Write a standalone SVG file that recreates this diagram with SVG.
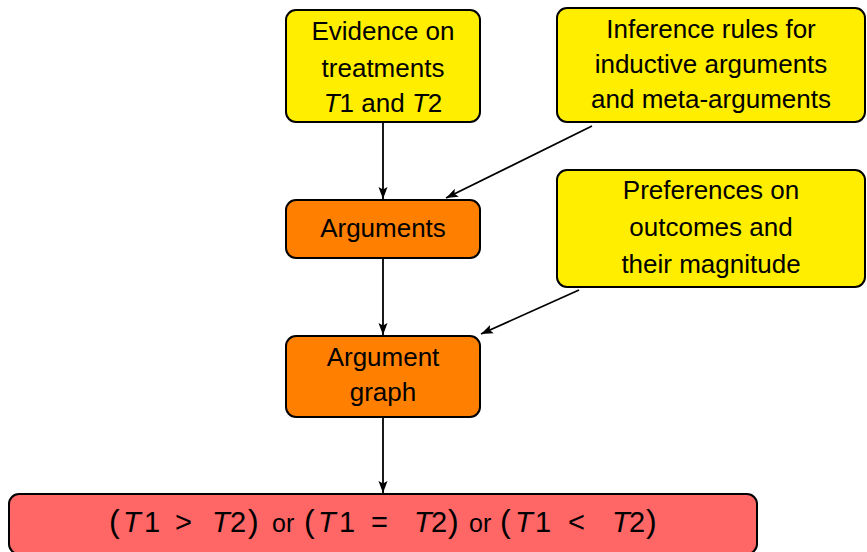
<svg xmlns="http://www.w3.org/2000/svg" width="867" height="552" viewBox="0 0 867 552">
<defs>
<marker id="ah" viewBox="0 0 12 10" refX="12" refY="5" markerWidth="12" markerHeight="10" markerUnits="userSpaceOnUse" orient="auto">
<path d="M0,0.5 L12,5 L0,9.5 L2.5,5 Z" fill="#000"/>
</marker>
<style>
.box{stroke:#000;stroke-width:2}
.y{fill:#ffee00}
.o{fill:#ff8000}
.r{fill:#ff6666}
text{font-family:"Liberation Sans","DejaVu Sans",sans-serif;font-size:26px;fill:#000;text-anchor:middle}
.m{font-size:29px;text-anchor:start}
.i{font-style:italic}
.p{font-size:32px}
.or{font-size:25px}
.c{stroke:#000;stroke-width:1.8;fill:none;marker-end:url(#ah)}
</style>
</defs>
<rect width="867" height="552" fill="#fff"/>
<g id="connectors">
<line class="c" x1="383" y1="123" x2="383" y2="199"/>
<line class="c" x1="592" y1="126" x2="446" y2="198"/>
<line class="c" x1="383" y1="259" x2="383" y2="335"/>
<line class="c" x1="579" y1="290" x2="481" y2="334"/>
<line class="c" x1="383" y1="418" x2="383" y2="493"/>
</g>
<g id="evidence">
<rect class="box y" x="286" y="10" width="194" height="112" rx="10"/>
<text x="383" y="40">Evidence on</text>
<text x="383" y="77">treatments</text>
<text x="383" y="112"><tspan class="i">T</tspan>1 and <tspan class="i">T</tspan>2</text>
</g>
<g id="inference">
<rect class="box y" x="557" y="8" width="308" height="114" rx="10"/>
<text x="711" y="38">Inference rules for</text>
<text x="711" y="73">inductive arguments</text>
<text x="711" y="108">and meta-arguments</text>
</g>
<g id="arguments">
<rect class="box o" x="286" y="200" width="194" height="58" rx="10"/>
<text x="383" y="237">Arguments</text>
</g>
<g id="preferences">
<rect class="box y" x="557" y="170" width="308" height="117" rx="10"/>
<text x="711" y="199">Preferences on</text>
<text x="711" y="236">outcomes and</text>
<text x="711" y="273">their magnitude</text>
</g>
<g id="graph">
<rect class="box o" x="286" y="336" width="194" height="81" rx="10"/>
<text x="383" y="366">Argument</text>
<text x="383" y="401">graph</text>
</g>
<g id="result">
<rect class="box r" x="9" y="494" width="748" height="60" rx="10"/>
<text class="m" y="532"><tspan x="109" class="p">(</tspan><tspan x="123" class="i">T</tspan><tspan x="144">1</tspan><tspan x="175">&gt;</tspan><tspan x="212" class="i">T</tspan><tspan x="230">2</tspan><tspan x="248" class="p">)</tspan><tspan x="272" class="or">or</tspan><tspan x="304" class="p">(</tspan><tspan x="318" class="i">T</tspan><tspan x="339">1</tspan><tspan x="371">=</tspan><tspan x="414" class="i">T</tspan><tspan x="431">2</tspan><tspan x="448" class="p">)</tspan><tspan x="469" class="or">or</tspan><tspan x="500" class="p">(</tspan><tspan x="515" class="i">T</tspan><tspan x="535">1</tspan><tspan x="568">&lt;</tspan><tspan x="612" class="i">T</tspan><tspan x="629">2</tspan><tspan x="646" class="p">)</tspan></text>
</g>
</svg>
